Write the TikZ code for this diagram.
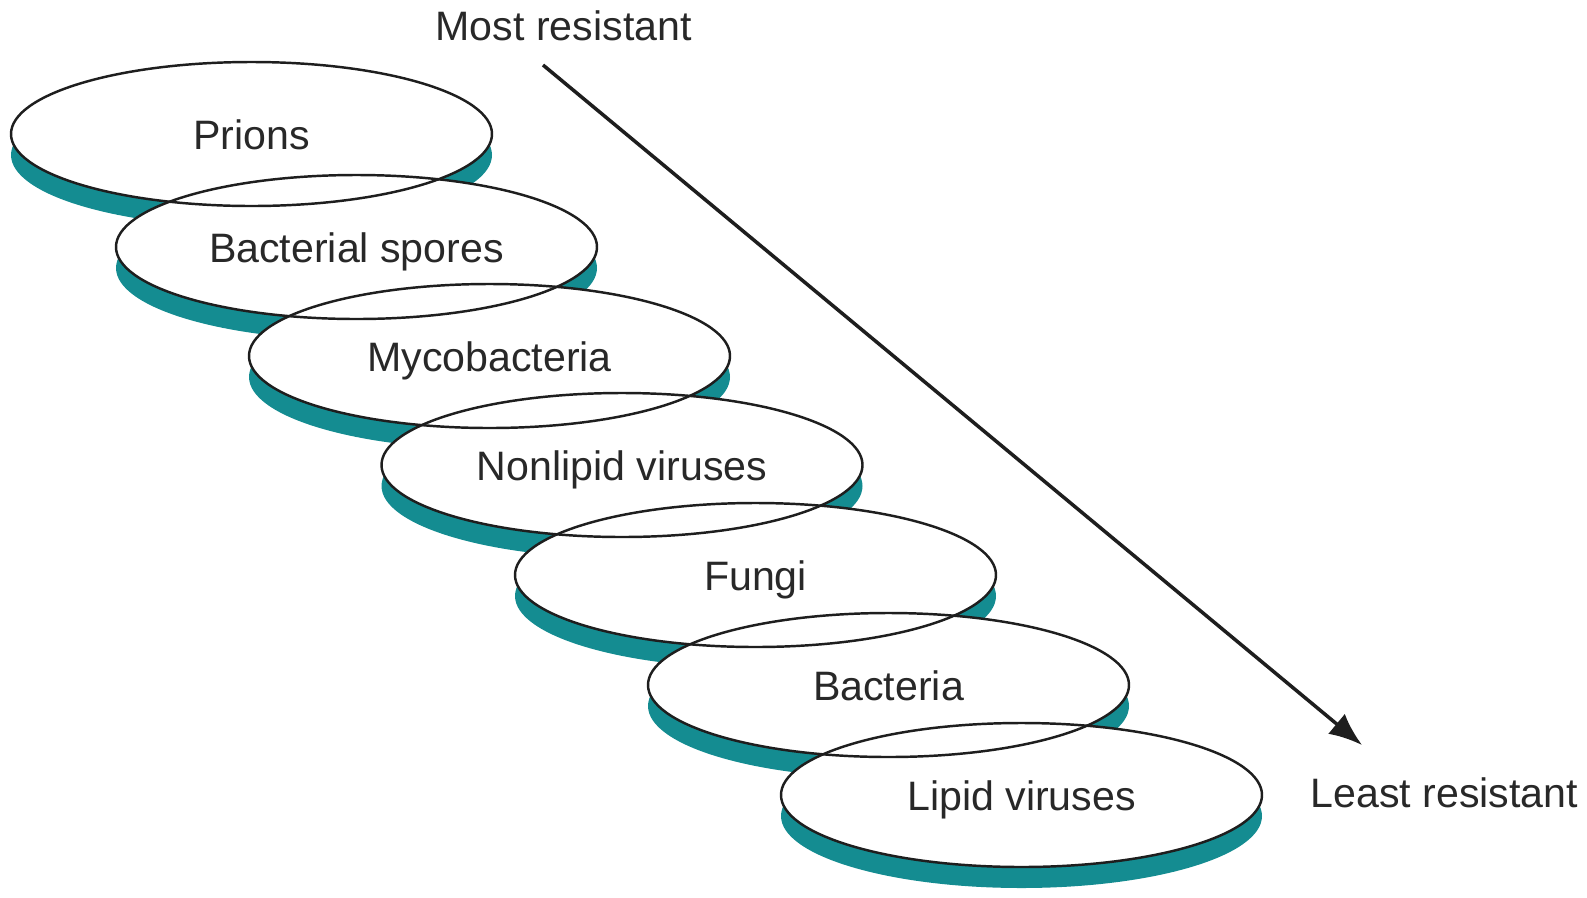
\documentclass[tikz,border=0pt]{standalone}
\usepackage{fontspec}
\setmainfont{Liberation Sans}
\usetikzlibrary{arrows.meta,shapes.geometric,shadows}
\definecolor{socleteal}{RGB}{20,140,145}
\definecolor{textegris}{RGB}{40,40,40}
\definecolor{traitnoir}{RGB}{30,30,30}
\tikzset{disque/.style={ellipse,fill=white,minimum width=4.81cm,minimum height=1.44cm,inner sep=0pt,
    text height=0.3cm,text depth=0pt,text=textegris,font=\fontsize{11.7}{14}\selectfont,
    drop shadow={shadow xshift=0pt,shadow yshift=-0.21cm,fill=socleteal,opacity=1}},
  contour/.style={draw=traitnoir,line width=0.7pt},
  fleche/.style={draw=traitnoir,line width=1pt,-{Latex[length=3.3mm,width=2.6mm]}},
  extremite/.style={inner sep=0pt,text=textegris,font=\fontsize{11.7}{14}\selectfont}}
\begin{document}
\begin{tikzpicture}

\useasboundingbox (0,0) rectangle (15.87,-8.97);

\node[disque] (D1) at (2.515,-1.34) {Prions};
\node[disque] (D2) at (3.565,-2.47) {Bacterial spores};
\node[disque] (D3) at (4.895,-3.56) {Mycobacteria};
\node[disque] (D4) at (6.22,-4.65) {Nonlipid viruses};
\node[disque] (D5) at (7.555,-5.75) {Fungi};
\node[disque] (D6) at (8.885,-6.85) {Bacteria};
\node[disque] (D7) at (10.215,-7.95) {Lipid viruses};

\draw[contour] (D1.center) ellipse [x radius=2.405cm,y radius=0.72cm];
\draw[contour] (D2.center) ellipse [x radius=2.405cm,y radius=0.72cm];
\draw[contour] (D3.center) ellipse [x radius=2.405cm,y radius=0.72cm];
\draw[contour] (D4.center) ellipse [x radius=2.405cm,y radius=0.72cm];
\draw[contour] (D5.center) ellipse [x radius=2.405cm,y radius=0.72cm];
\draw[contour] (D6.center) ellipse [x radius=2.405cm,y radius=0.72cm];
\draw[contour] (D7.center) ellipse [x radius=2.405cm,y radius=0.72cm];

\node[extremite,anchor=base west] (plus) at (4.35,-0.40) {Most resistant};
\node[extremite,anchor=base west] (moins) at (13.10,-8.07) {Least resistant};

\coordinate (haut) at (5.43,-0.65);
\coordinate (bas) at (13.62,-7.45);
\draw[fleche] (haut) -- (bas);

\end{tikzpicture}
\end{document}
